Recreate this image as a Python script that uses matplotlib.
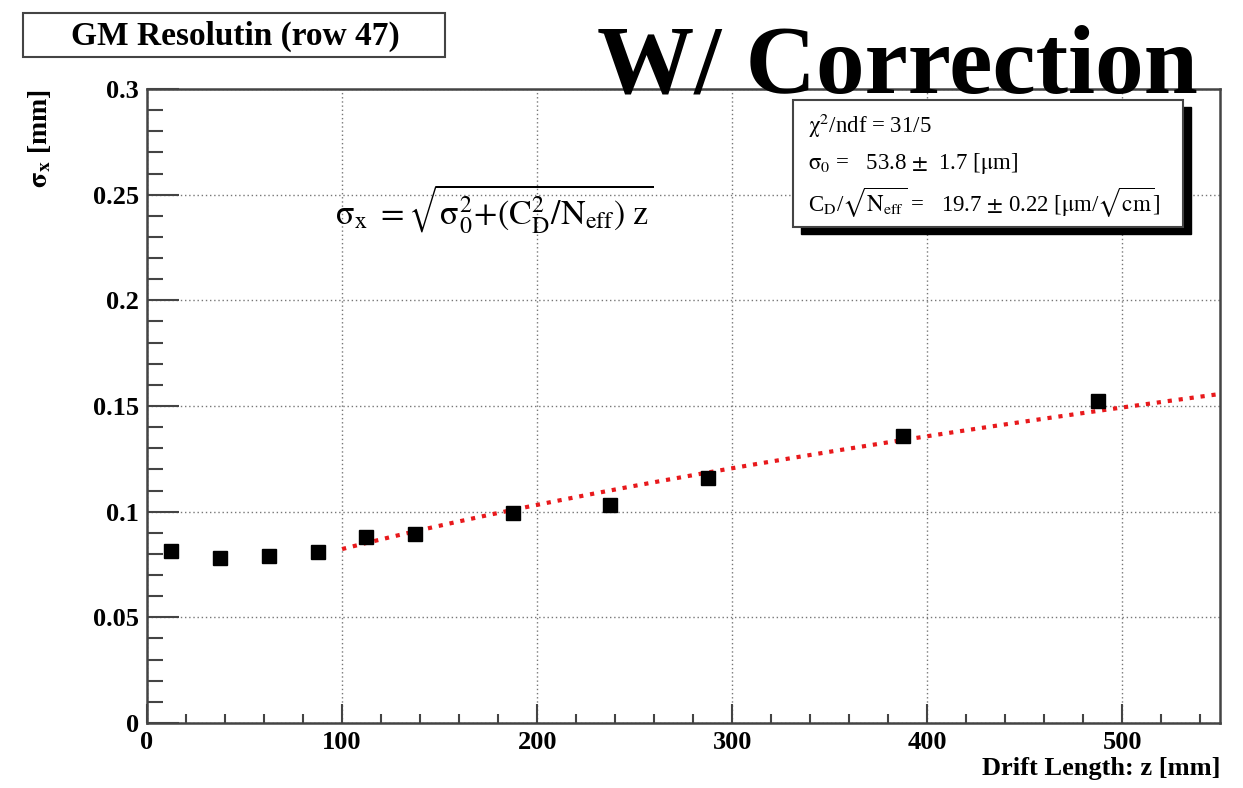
import numpy as np
import matplotlib
matplotlib.use("Agg")
import matplotlib.pyplot as plt
from matplotlib.ticker import MultipleLocator
from matplotlib.patches import Rectangle

plt.rcParams['mathtext.fontset'] = 'stix'
plt.rcParams['font.family'] = ['Liberation Serif', 'DejaVu Serif']

# data
drift_z = [12.5, 37.5, 62.5, 87.5, 112.5, 137.5, 187.5, 237.5, 287.5, 387.5, 487.5]
sigma_x = [0.0816, 0.0783, 0.0788, 0.0807, 0.0882, 0.0892, 0.0995, 0.1033, 0.1159, 0.1359, 0.1524]

# fit parameters (from stats box)
sigma0_um = 53.8
cd_um_sqrtcm = 19.7
fit_range = [100, 550]

title_text = "GM Resolutin (row 47)"
big_text = "W/ Correction"

W, H = 1243, 788
fig = plt.figure(figsize=(W/100, H/100), dpi=100)
ax = fig.add_axes([147/W, 1-723/H, (1220-147)/W, (723-89)/H])

ax.plot(drift_z, sigma_x, 's', color='black', ms=10, zorder=4)

zf = np.linspace(fit_range[0], fit_range[1], 300)
sf = np.sqrt((sigma0_um/1000)**2 + (cd_um_sqrtcm/1000)**2 * zf/10.0)
ax.plot(zf, sf, ':', color='#e8191c', lw=3.0, zorder=3)

ax.set_xlim(0, 550)
ax.set_ylim(0, 0.3)
ax.xaxis.set_major_locator(MultipleLocator(100))
ax.xaxis.set_minor_locator(MultipleLocator(20))
ax.yaxis.set_minor_locator(MultipleLocator(0.01))
ax.set_yticks([0, 0.05, 0.1, 0.15, 0.2, 0.25, 0.3])
ax.set_yticklabels(['0', '0.05', '0.1', '0.15', '0.2', '0.25', '0.3'])

ax.grid(True, which='major', linestyle=(0, (1, 2)), color='#777777', lw=1.0)
spine_c = '#444444'
for s in ax.spines.values():
    s.set_color(spine_c)
    s.set_linewidth(1.8)
ax.tick_params(axis='both', which='both', direction='in', color=spine_c, width=1.5,
               top=False, right=False)
ax.tick_params(axis='y', which='major', length=23, pad=6)
ax.tick_params(axis='y', which='minor', length=11.5)
ax.tick_params(axis='x', which='major', length=13.7, pad=6)
ax.tick_params(axis='x', which='minor', length=6.8)
for lab in ax.get_xticklabels() + ax.get_yticklabels():
    lab.set_fontweight('bold')
    lab.set_fontsize(19)

ax.set_xlabel('Drift Length: z [mm]', fontsize=19, fontweight='bold', loc='right', labelpad=2)
ax.set_ylabel(r'$\mathbf{\sigma_x}$ [mm]', fontsize=20, fontweight='bold', loc='top', labelpad=4)
ax.yaxis.set_label_coords(-(147-53)/(1220-147), 1.0)

# title box
fig.patches.append(Rectangle((23/W, 1-57/H), (445-23)/W, (57-13)/H, transform=fig.transFigure,
                             fc='white', ec='#444444', lw=1.5, zorder=5))
fig.text(235/W, 1-36/H, title_text, fontsize=24, fontweight='bold', ha='center', va='center', zorder=6)

fig.text(1198/W, 1-92/H, big_text, fontsize=70, fontweight='bold', ha='right', va='baseline',
         color='black', zorder=10)

# formula
fig.text(335/W, 1-225/H,
         r'$\mathrm{\sigma}_{\rm x}\ =\sqrt{\mathrm{\sigma}_0^2\!+\!({\rm C}_{\rm D}^2/{\rm N}_{\rm eff})\ {\rm z}}$',
         fontsize=24.5, ha='left', va='baseline')

# stats box with shadow
bx0, by0, bx1, by1 = 793, 100, 1183, 227
fig.patches.append(Rectangle(((bx0+8)/W, 1-(by1+7)/H), (bx1-bx0)/W, (by1-by0)/H,
                             transform=fig.transFigure, fc='black', ec='black', zorder=5))
fig.patches.append(Rectangle((bx0/W, 1-by1/H), (bx1-bx0)/W, (by1-by0)/H,
                             transform=fig.transFigure, fc='white', ec='#444444', lw=1.5, zorder=6))
stats = [
    r'$\mathrm{\chi}^2$/ndf = 31/5',
    r'$\mathrm{\sigma}_0$ =   53.8 $\pm$  1.7 [$\mathrm{\mu}$m]',
    r'C$_{\rm D}$/$\sqrt{\rm N_{eff}}$ =   19.7 $\pm$ 0.22 [$\mathrm{\mu}$m/$\sqrt{\rm cm}$]',
]
ys = [126, 163, 203]
for t, yy in zip(stats, ys):
    fig.text(808/W, 1-yy/H, t, fontsize=16.5, ha='left', va='center', zorder=7)

fig.savefig('out.png', dpi=100)
